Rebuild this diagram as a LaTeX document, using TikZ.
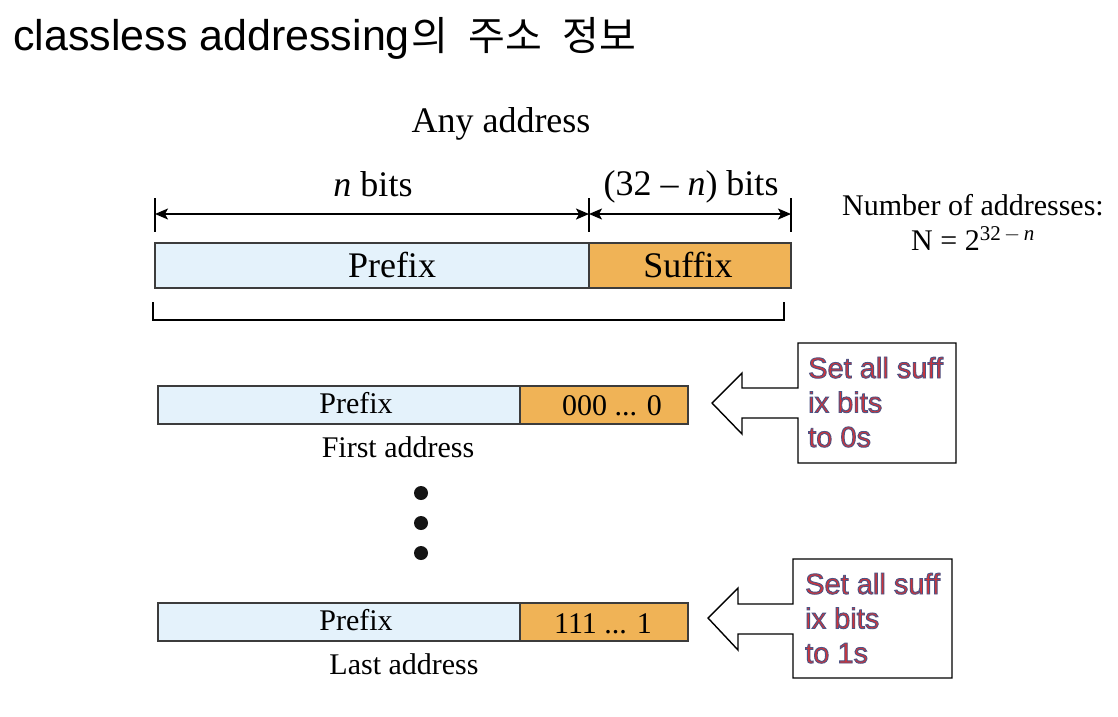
\documentclass[tikz,border=0pt]{standalone}
\usepackage{fontspec}
\setmainfont{Liberation Serif}
\newfontfamily\titlefont{Liberation Sans}
\newfontfamily\krfont{Noto Sans CJK KR}
\newfontfamily\calfont{Liberation Sans}
\usetikzlibrary{arrows.meta}
\definecolor{prefixfill}{RGB}{228,242,251}
\definecolor{suffixfill}{RGB}{240,179,86}
\definecolor{barline}{RGB}{60,60,60}
\definecolor{calfill}{RGB}{205,52,58}
\newcommand{\outlineon}{\special{pdf:literal direct 2 Tr 0.9 w 0.30 0.33 0.52 RG}}
\tikzset{
  barbox/.style={draw=barline, line width=1.6pt, inner sep=0pt, outer sep=0pt, anchor=north west},
  bigtxt/.style={font=\fontsize{36}{40}\selectfont, inner sep=0pt, anchor=base},
  smalltxt/.style={font=\fontsize{30}{34}\selectfont, inner sep=0pt, anchor=base},
  dimline/.style={line width=1.6pt, {Stealth[length=13pt,width=11pt,inset=3pt]}-{Stealth[length=13pt,width=11pt,inset=3pt]}},
  tickline/.style={line width=1.4pt},
  callout/.style={draw=black, line width=1.4pt, fill=white, line join=miter},
  caltxt/.style={font=\calfont\fontsize{29}{34.5}\selectfont, text=calfill, inner sep=0pt, align=left, anchor=base west},
  dotmark/.style={circle, fill=black!92, inner sep=0pt, minimum size=14pt}
}
\begin{document}
\begin{tikzpicture}[x=1pt,y=-1pt]
\useasboundingbox (0,0) rectangle (1118,716);
\fill[white] (0,0) rectangle (1118,716);
% title
\node[inner sep=0pt, anchor=base west] (title) at (13,50) {\titlefont\fontsize{43}{46}\selectfont classless addressing\krfont\fontsize{40}{46}\selectfont\hspace{2pt}의\hspace{20pt}주소\hspace{20pt}정보};
% top labels
\node[bigtxt] (any) at (501,132) {Any address};
\node[bigtxt] (nbits) at (373,196) {\textit{n} bits};
\node[bigtxt] (sbits) at (691,195) {(32 \char"2013{} \textit{n}) bits};
% ticks
\coordinate (t1a) at (155,198); \coordinate (t1b) at (155,232);
\coordinate (t2a) at (589,198); \coordinate (t2b) at (589,232);
\coordinate (t3a) at (791,198); \coordinate (t3b) at (791,232);
\draw[tickline] (t1a) -- (t1b);
\draw[tickline] (t2a) -- (t2b);
\draw[tickline] (t3a) -- (t3b);
\coordinate (d1) at (155,214); \coordinate (d2) at (589,214); \coordinate (d3) at (791,214);
\draw[dimline] (d1) -- (d2);
\draw[dimline] (d2) -- (d3);
% big bar
\node[barbox, fill=prefixfill, minimum width=434pt, minimum height=45pt] (bpre) at (155,243) {};
\node[barbox, fill=suffixfill, minimum width=202pt, minimum height=45pt] (bsuf) at (589,243) {};
\node[bigtxt] (bpretxt) at (392,277) {Prefix};
\node[bigtxt] (bsuftxt) at (688,277) {Suffix};
% bracket
\coordinate (br1) at (153,302); \coordinate (br2) at (153,320);
\coordinate (br3) at (784,320); \coordinate (br4) at (784,302);
\draw[line width=1.6pt] (br1) -- (br2) -- (br3) -- (br4);
% number of addresses
\node[font=\fontsize{30}{34}\selectfont, inner sep=0pt, anchor=base] (num) at (973,215) {Number of addresses:};
\node[font=\fontsize{30}{34}\selectfont, inner sep=0pt, anchor=base] (neq) at (973,250) {N = 2$^{\mathrm{32\,-\,}\mathit{n}}$};
% first address
\node[barbox, fill=prefixfill, minimum width=362pt, minimum height=38pt] (fpre) at (158,386) {};
\node[barbox, fill=suffixfill, minimum width=168pt, minimum height=38pt] (fsuf) at (520,386) {};
\node[smalltxt] (fpretxt) at (356,413) {Prefix};
\node[smalltxt] (fsuftxt) at (612,415) {000 ... 0};
\node[smalltxt] (flabel) at (398,457) {First address};
% dots
\node[dotmark] (dot1) at (421,493) {};
\node[dotmark] (dot2) at (421,523) {};
\node[dotmark] (dot3) at (421,553) {};
% last address
\node[barbox, fill=prefixfill, minimum width=362pt, minimum height=38pt] (lpre) at (158,603) {};
\node[barbox, fill=suffixfill, minimum width=168pt, minimum height=38pt] (lsuf) at (520,603) {};
\node[smalltxt] (lpretxt) at (356,630) {Prefix};
\node[smalltxt] (lsuftxt) at (603,633) {111 ... 1};
\node[smalltxt] (llabel) at (404,674) {Last address};
% callout 1
\draw[callout] (798,343) -- (956,343) -- (956,463) -- (798,463) -- (798,418) -- (742,418) -- (742,434) -- (712,403) -- (742,373) -- (742,388) -- (798,388) -- cycle;
\node[caltxt] (c1) at (808,447) {\outlineon Set all suff\\\outlineon ix bits\\\outlineon to 0s};
% callout 2
\draw[callout] (793,559) -- (952,559) -- (952,678) -- (793,678) -- (793,634) -- (738,634) -- (738,650) -- (708,618) -- (738,588) -- (738,604) -- (793,604) -- cycle;
\node[caltxt] (c2) at (805,663) {\outlineon Set all suff\\\outlineon ix bits\\\outlineon to 1s};
\end{tikzpicture}
\end{document}
